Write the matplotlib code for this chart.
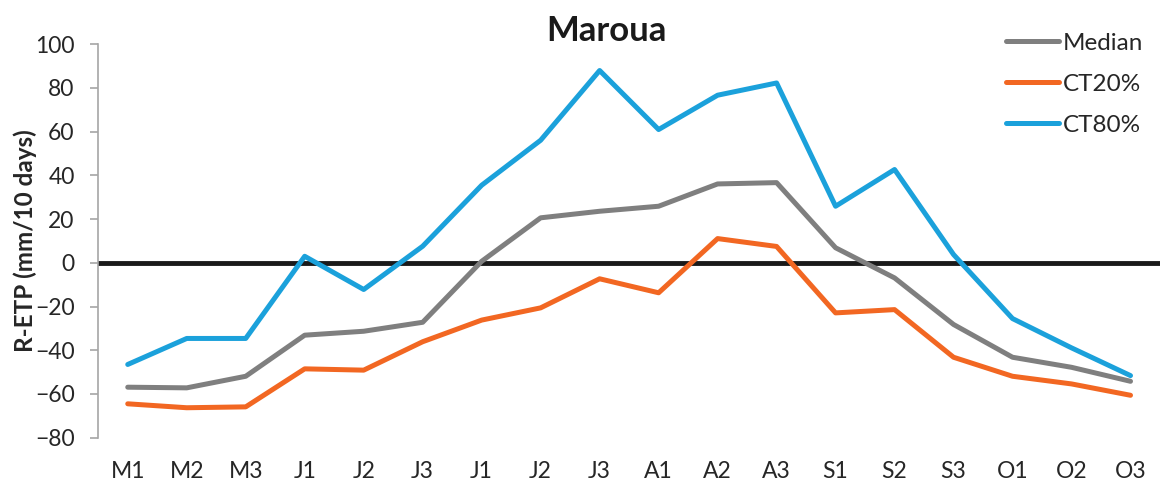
import matplotlib
matplotlib.use("Agg")
import matplotlib.pyplot as plt

plt.rcParams['font.family'] = ['Lato', 'DejaVu Sans']

# dekads from March to October
dekads = ["M1", "M2", "M3", "J1", "J2", "J3", "J1", "J2", "J3",
          "A1", "A2", "A3", "S1", "S2", "S3", "O1", "O2", "O3"]

median = [-56.9, -57.2, -51.9, -33.1, -31.3, -27.2, 0.7, 20.6, 23.6,
          25.9, 36.1, 36.7, 6.9, -6.9, -28.2, -43.2, -47.8, -54.2]
ct20 = [-64.5, -66.3, -65.9, -48.5, -49.1, -36.1, -26.2, -20.6, -7.3,
        -13.7, 11.1, 7.5, -22.9, -21.4, -43.2, -51.9, -55.4, -60.6]
ct80 = [-46.5, -34.6, -34.6, 3.0, -12.2, 7.6, 35.5, 56.1, 88.0,
        61.0, 76.7, 82.3, 25.9, 42.7, 3.8, -25.5, -38.9, -51.6]

x = list(range(len(dekads)))

fig = plt.figure(figsize=(11.6, 4.84), dpi=100)
ax = fig.add_axes([0.0847, 0.0957, 0.9153, 0.8128])

ax.axhline(0, color='#1a1a1a', lw=3.5, zorder=1)

style = dict(lw=3.6, solid_capstyle='round', solid_joinstyle='round', zorder=3)
ax.plot(x, median, color='#7F7F7F', label='Median', **style)
ax.plot(x, ct20, color='#F26722', label='CT20%', **style)
ax.plot(x, ct80, color='#1BA1DB', label='CT80%', **style)

ax.set_xlim(-0.5, len(dekads) - 0.5)
ax.set_ylim(-80, 100)
ax.set_yticks(range(-80, 101, 20))
ax.set_xticks(x)
ax.set_xticklabels(dekads)

for s in ['top', 'right', 'bottom']:
    ax.spines[s].set_visible(False)
ax.spines['left'].set_color('#A6A6A6')
ax.spines['left'].set_linewidth(1.2)

ax.tick_params(axis='y', length=6, width=1.2, color='#A6A6A6', pad=11,
               labelsize=16.5, labelcolor='#262626')
ax.tick_params(axis='x', length=0, pad=17, labelsize=16.5, labelcolor='#262626')

fig.text(0.0215, 0.502, 'R-ETP (mm/10 days)', rotation=90, ha='center',
         va='center', fontsize=17.5, fontweight='bold', color='#262626')
fig.text(0.523, 0.935, 'Maroua', ha='center', va='center', fontsize=25,
         fontweight='bold', color='#1a1a1a')

leg = ax.legend(loc='upper left', bbox_to_anchor=(0.867, 0.932),
                bbox_transform=fig.transFigure, frameon=False, fontsize=17.5,
                handlelength=2.2, handletextpad=0.15, labelspacing=0.82,
                borderpad=0, borderaxespad=0)
for t in leg.get_texts():
    t.set_color('#262626')

fig.savefig('out.png', dpi=100)
